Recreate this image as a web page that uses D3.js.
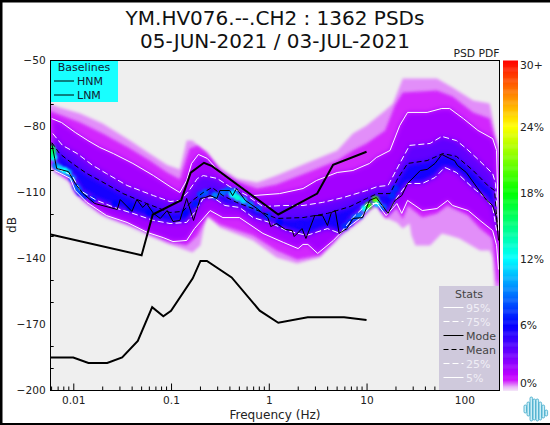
<!DOCTYPE html>
<html><head><meta charset="utf-8">
<script src="https://cdn.jsdelivr.net/npm/d3@7/dist/d3.min.js"></script>
<style>html,body{margin:0;padding:0;background:#fff;overflow:hidden}svg{display:block}text{font-family:"DejaVu Sans",sans-serif}</style>
</head><body><div id="chart"></div>
<script>
// ---- values are [log10(Hz), dB] ----
const titleLines = ["YM.HV076.--.CH2 : 1362 PSDs", "05-JUN-2021 / 03-JUL-2021"];
const xTickHz = [0.01, 0.1, 1, 10, 100];
const xTickLabels = ["0.01", "0.1", "1", "10", "100"];
const yTicksDb = [-50, -80, -110, -140, -170, -200];
const cbTicks = [[0, "0%"], [6, "6%"], [12, "12%"], [18, "18%"], [24, "24%"], [30, "30+"]];
const colorStops = [0, 0.35, 1, 6, 12, 18, 24, 30];
const colorValues = ["#f2def8", "#e6a8f8", "#cc00ff", "#0000ff", "#00ffff", "#00ff00", "#ffff00", "#ff0000"];

const hnm = [[-2.231,-129.1],[-1.301,-138.5],[-1.187,-120],[-0.896,-113.5],[-0.799,-101],[-0.663,-96.5],[-0.58,-98],[0.097,-120],[0.495,-110.5],[0.658,-97.4],[1,-91.5]];
const lnm = [[-2.231,-185],[-2,-185],[-1.845,-187.5],[-1.653,-187.5],[-1.5,-185],[-1.34,-177.5],[-1.193,-162.1],[-1.079,-166.25],[-1,-163.75],[-0.778,-149],[-0.699,-141.1],[-0.633,-141.1],[-0.38,-148.6],[-0.093,-163.7],[0.097,-169.2],[0.398,-166.7],[0.77,-166.7],[1,-168]];

const p95 = [[-2.22,-76.4],[-2.12,-78.2],[-1.98,-82.7],[-1.85,-86.4],[-1.73,-89.5],[-1.59,-92.3],[-1.39,-96.8],[-1.18,-102.3],[-1.01,-107.3],[-0.91,-110],[-0.84,-104.5],[-0.79,-96.8],[-0.72,-92.7],[-0.63,-94.5],[-0.5,-100.9],[-0.33,-105.9],[-0.16,-111.4],[0.11,-110.5],[0.35,-108.2],[0.49,-104.5],[0.7,-100.9],[0.86,-100],[1.03,-96.8],[1.1,-94.1],[1.24,-90.9],[1.34,-79.5],[1.42,-73.6],[1.62,-73.6],[1.77,-71.8],[1.85,-71.8],[1.99,-76.4],[2.14,-81.8],[2.29,-85.5],[2.33,-90.9],[2.35,-127.3]];
const p75 = [[-2.21,-83.2],[-2.11,-88.6],[-1.96,-92.3],[-1.8,-97.7],[-1.66,-101.4],[-1.45,-106.8],[-1.18,-111.4],[-1.01,-114.1],[-0.91,-113.6],[-0.83,-110],[-0.73,-103.6],[-0.67,-102.3],[-0.53,-103.6],[-0.4,-107.3],[-0.22,-111.4],[-0.06,-116.4],[0.15,-115.9],[0.35,-115.9],[0.55,-114.5],[0.76,-112.3],[1,-109.1],[1.11,-107.3],[1.22,-106.8],[1.34,-96.8],[1.44,-88.6],[1.65,-87.7],[1.77,-84.5],[1.92,-86.4],[2.02,-90],[2.13,-94.5],[2.29,-101.4],[2.32,-105.9],[2.34,-125.9]];
const pMean = [[-2.22,-87.3],[-2.14,-92.3],[-2.01,-96.8],[-1.86,-101.4],[-1.73,-104.5],[-1.49,-110.5],[-1.25,-115],[-1.01,-119.1],[-0.88,-118.6],[-0.78,-113.6],[-0.67,-110],[-0.58,-107.7],[-0.47,-111.4],[-0.33,-114.5],[-0.16,-117.3],[0.08,-121.8],[0.35,-121.4],[0.6,-119.5],[0.83,-116.4],[1,-112.7],[1.11,-110.5],[1.24,-110.5],[1.32,-103.6],[1.42,-96.8],[1.62,-95.5],[1.78,-92.3],[1.92,-93.6],[2.09,-100],[2.24,-106.8],[2.31,-109.1],[2.34,-125.9]];
const pMode = [[-2.22,-87.7],[-2.19,-94.5],[-2.17,-99.1],[-2.05,-100.5],[-1.98,-105.9],[-1.9,-110.5],[-1.78,-115],[-1.55,-117.7],[-1.52,-113.2],[-1.4,-118.6],[-1.35,-113.2],[-1.29,-116.8],[-1.25,-115],[-1.18,-119.5],[-1.11,-121.8],[-1.04,-118.2],[-0.98,-123.2],[-0.91,-122.7],[-0.84,-112.7],[-0.77,-122.7],[-0.7,-112.7],[-0.65,-112.3],[-0.6,-111.4],[-0.53,-112.7],[-0.5,-109.1],[-0.4,-109.1],[-0.37,-111.4],[-0.33,-108.2],[-0.24,-113.6],[-0.12,-117.3],[-0.01,-121.4],[0.02,-125.5],[0.08,-124.1],[0.17,-126.8],[0.24,-127.3],[0.26,-130],[0.34,-126.4],[0.38,-130.9],[0.47,-120.5],[0.55,-120.5],[0.6,-125],[0.64,-119.1],[0.68,-118.2],[0.72,-128.6],[0.8,-126.4],[0.86,-121.8],[0.96,-121.4],[1.03,-113.6],[1.1,-112.3],[1.16,-115.9],[1.22,-119.5],[1.29,-113.6],[1.36,-111.4],[1.42,-105.9],[1.55,-100],[1.62,-99.5],[1.7,-96.8],[1.77,-92.7],[1.85,-94.5],[1.9,-95.5],[1.93,-97.7],[2.02,-100.9],[2.13,-107.7],[2.23,-113.6],[2.29,-115.9],[2.33,-121.4],[2.35,-131.8]];
const p25 = [[-2.16,-99.1],[-2.01,-102.3],[-1.93,-109.1],[-1.76,-113.6],[-1.55,-117.3],[-1.39,-119.5],[-1.18,-122.7],[-1.01,-124.1],[-0.84,-123.6],[-0.76,-119.1],[-0.67,-112.7],[-0.57,-112.3],[-0.45,-115.9],[-0.3,-116.8],[-0.16,-121.4],[0.01,-123.6],[0.18,-127.3],[0.39,-129.5],[0.6,-126.4],[0.73,-128.6],[0.86,-121.4],[1.01,-115],[1.14,-115],[1.22,-119.5],[1.31,-112.3],[1.42,-105.9],[1.57,-105.9],[1.7,-103.2],[1.8,-98.6],[1.92,-100.9],[2.06,-106.8],[2.21,-112.3],[2.29,-116.8],[2.33,-127.3]];
const p05 = [[-2.19,-100],[-2.03,-103.6],[-1.98,-109.1],[-1.86,-114.5],[-1.66,-120.5],[-1.45,-123.6],[-1.24,-128.2],[-1.08,-130.5],[-0.98,-132.3],[-0.84,-131.8],[-0.76,-126.4],[-0.6,-118.2],[-0.47,-121.4],[-0.3,-121.4],[-0.06,-128.6],[0.15,-132.7],[0.3,-135.5],[0.35,-133.6],[0.4,-133.6],[0.5,-137.7],[0.66,-131.8],[0.73,-128.6],[0.93,-121.8],[1.03,-116.8],[1.1,-114.5],[1.2,-120.5],[1.31,-115],[1.36,-119.5],[1.42,-113.6],[1.57,-118.2],[1.72,-117.3],[1.83,-113.6],[1.88,-115.9],[2.04,-118.2],[2.16,-122.7],[2.29,-127.3],[2.33,-134],[2.35,-145]];

// outer edges of the density cloud
const envTop = [[-2.25,-69.5],[-2.14,-71.4],[-1.93,-74.1],[-1.7,-78.6],[-1.42,-86.4],[-1.22,-92.3],[-1.04,-97.5],[-0.91,-99.5],[-0.87,-92],[-0.84,-86.4],[-0.78,-86.4],[-0.67,-90.9],[-0.5,-98.6],[-0.33,-103.6],[-0.12,-105.5],[0.08,-102.3],[0.45,-95.5],[0.7,-90.9],[0.86,-83.2],[1,-79.5],[1.19,-72.7],[1.27,-69.5],[1.37,-58.2],[1.72,-58.2],[1.88,-62.3],[2.09,-68.2],[2.26,-69.5],[2.33,-86.4],[2.36,-100]];
const envBottom = [[-2.25,-96.8],[-2.17,-100.9],[-2.03,-105.5],[-1.98,-110.5],[-1.73,-119.5],[-1.52,-123.6],[-1.29,-127.3],[-1.22,-129.5],[-1.04,-133.2],[-0.78,-137.3],[-0.7,-134.1],[-0.66,-125],[-0.63,-120.5],[-0.5,-125.9],[-0.16,-131.8],[0.08,-139.5],[0.29,-142.3],[0.52,-139.5],[0.66,-133.2],[0.73,-129.5],[0.93,-122.7],[1.03,-118.2],[1.1,-115.9],[1.19,-121.4],[1.31,-123.6],[1.37,-126.4],[1.44,-124.1],[1.46,-129.5],[1.5,-134.1],[1.65,-134.1],[1.77,-128.6],[1.85,-129.5],[1.95,-130.9],[2.16,-136.4],[2.26,-136.4],[2.29,-139.5],[2.31,-153.2],[2.36,-154.5]];
const midTop = [[-2.25,-72.7],[-1.93,-78.2],[-1.7,-83.2],[-1.42,-90],[-1.22,-95.5],[-1.04,-100.9],[-0.91,-104],[-0.85,-95.5],[-0.81,-90],[-0.73,-88.6],[-0.63,-91.8],[-0.5,-100],[-0.33,-105],[-0.12,-108.2],[0.08,-106.4],[0.45,-100],[0.7,-95.5],[0.86,-90.9],[1,-87.7],[1.19,-81.8],[1.29,-70.5],[1.37,-64.5],[1.72,-63.6],[1.88,-66.4],[2.09,-73.6],[2.26,-76.4],[2.33,-88.6],[2.36,-100]];
const midBottom = [[-2.25,-96.8],[-2.17,-100],[-2.03,-104.5],[-1.98,-110],[-1.73,-118.2],[-1.52,-122.3],[-1.29,-126.4],[-1.04,-131.8],[-0.84,-134.1],[-0.73,-129.5],[-0.63,-120.5],[-0.5,-124.5],[-0.16,-129.5],[0.08,-136.4],[0.29,-140.5],[0.52,-138.6],[0.66,-132.3],[0.73,-128.6],[0.93,-122.3],[1.03,-117.3],[1.1,-115.5],[1.2,-121.8],[1.31,-116.8],[1.37,-122.3],[1.42,-115.9],[1.57,-121.4],[1.72,-119.5],[1.83,-115.9],[2.04,-120.5],[2.16,-126.4],[2.29,-130.9],[2.33,-150],[2.36,-153]];
// density (%) of each band
const bandLevels = {env: 0.45, mid: 0.85, outer: 2, inner: 3.6, core: 5.4};
// local density peaks: [log10 Hz, dB, percent]
const peaks = [[-2.21,-91.4,15],[-2.22,-90,16],[-2.22,-93,14],[-2.2,-94,12],[-2.18,-97.7,9],[-2.14,-99,11],[-2.09,-100,12],[-2.05,-101,10],[-2.01,-103.6,9],[-1.97,-107.3,8],[-1.95,-108.5,8],[-1.93,-110,7],[-1.88,-111.4,7],[-1.8,-113,6.5],[-1.57,-115,6],[-1.42,-116.8,6],[-1.22,-119,6],[-0.86,-119,6],[-0.75,-115,6.5],[-0.7,-111,7.5],[-0.65,-110,8],[-0.55,-111.4,9],[-0.47,-110,8.5],[-0.42,-109,8],[-0.37,-111,12],[-0.35,-109.5,9],[-0.32,-112.3,13],[-0.26,-113.6,11],[-0.19,-115.5,9],[-0.11,-117.3,8],[-0.01,-120.5,7],[0.11,-123.6,6],[0.32,-124.5,5.5],[0.63,-121.8,5.5],[0.78,-125.5,7],[0.83,-123.6,7],[0.88,-121.4,8],[0.93,-120.5,9],[0.98,-117.3,12],[1.02,-116,19],[1.09,-113.2,20],[1.11,-115,11],[1.17,-116.8,8],[1.26,-111.4,7],[1.29,-108.2,7]];

const baselineLabels = ["HNM", "LNM"];
const statsRows = [["95%","#fff","none",true],["75%","#fff","6,3",true],["Mode","#000","none",false],["Mean","#000","5,3",false],["25%","#fff","6,3",true],["5%","#fff","none",true]];

// ---- drawing ----
const W = 550, H = 425;
const svg = d3.select("#chart").append("svg").attr("width", W).attr("height", H);
const x = d3.scaleLog().domain([10 ** -2.231, 10 ** 2.358]).range([50.7, 499.3]);
const y = d3.scaleLinear().domain([-50, -200]).range([60.5, 390.5]);
const color = d3.scaleLinear().domain(colorStops).range(colorValues).clamp(true);
const line = d3.line().x(d => x(10 ** d[0])).y(d => y(d[1]));

const defs = svg.append("defs");
defs.append("clipPath").attr("id", "plot").append("rect").attr("x", 50.7).attr("y", 60.5).attr("width", 448.6).attr("height", 330);
[["b1", 1.6], ["b2", 2.6], ["b3", 1.3]].forEach(([id, s]) => {
  defs.append("filter").attr("id", id).attr("x", "-5%").attr("y", "-5%").attr("width", "110%").attr("height", "110%")
    .append("feGaussianBlur").attr("stdDeviation", s);
});

svg.append("rect").attr("width", W).attr("height", H).attr("fill", "#fff");
svg.append("rect").attr("x", 50.7).attr("y", 60.5).attr("width", 448.6).attr("height", 330).attr("fill", "#efefef");

const plot = svg.append("g").attr("clip-path", "url(#plot)");
const poly = (top, bottom) => line(top.concat(bottom.slice().reverse())) + "Z";
plot.append("path").attr("d", poly(envTop, envBottom)).attr("fill", color(bandLevels.env)).attr("filter", "url(#b1)");
plot.append("path").attr("d", poly(midTop, midBottom)).attr("fill", color(bandLevels.mid)).attr("filter", "url(#b1)");
const inner = plot.append("g").attr("filter", "url(#b2)");
inner.append("path").attr("d", poly(p95, p05)).attr("fill", color(bandLevels.outer));
inner.append("path").attr("d", poly(p75, p25)).attr("fill", color(bandLevels.inner));
inner.append("path").attr("d", poly(pMean, p25)).attr("fill", color(bandLevels.core));
const hot = plot.append("g").attr("filter", "url(#b3)");
hot.selectAll("circle").data(peaks.slice().sort((a, b) => a[2] - b[2])).join("circle")
  .attr("cx", d => x(10 ** d[0])).attr("cy", d => y(d[1])).attr("r", 3.6).attr("fill", d => color(d[2]));

const drawLine = (data, stroke, w, dash) => plot.append("path").attr("d", line(data)).attr("fill", "none")
  .attr("stroke", stroke).attr("stroke-width", w).attr("stroke-dasharray", dash || null);
drawLine(p95, "#fff", 1);
drawLine(p75, "#fff", 1, "6,3");
drawLine(p25, "#fff", 1, "6,3");
drawLine(p05, "#fff", 1);
drawLine(pMean, "#000", 1, "5,3");
drawLine(pMode, "#000", 1);
drawLine(hnm, "#000", 2);
drawLine(lnm, "#000", 2);

// spines and ticks
const minorX = [];
for (let d = -3; d <= 2; d++) for (let m = 2; m <= 9; m++) { const v = m * 10 ** d; if (v > x.domain()[0] && v < x.domain()[1]) minorX.push(v); }
const axB = svg.append("g").attr("transform", "translate(0,390.5)");
axB.call(d3.axisBottom(x).tickValues(xTickHz).tickSize(-7).tickPadding(5.5).tickFormat((d, i) => xTickLabels[i]));
axB.selectAll(".minor").data(minorX).join("line").attr("class", "minor").attr("x1", d => x(d)).attr("x2", d => x(d)).attr("y1", 0).attr("y2", -4).attr("stroke", "#000");
axB.select(".domain").remove();
axB.selectAll("text").attr("font-size", 10.6).attr("font-family", "DejaVu Sans").attr("fill", "#222");

const axL = svg.append("g").attr("transform", "translate(50.7,0)");
axL.call(d3.axisLeft(y).tickValues(yTicksDb).tickSize(0).tickPadding(5).tickFormat(d3.format("d")));
const minorY = d3.range(-60, -200, -10).filter(v => !yTicksDb.includes(v));
axL.selectAll(".minor").data(minorY).join("line").attr("class", "minor").attr("y1", d => y(d)).attr("y2", d => y(d)).attr("x1", 0).attr("x2", 3).attr("stroke", "#000");
axL.select(".domain").remove();
axL.selectAll("text").attr("font-size", 10.6).attr("font-family", "DejaVu Sans").attr("fill", "#222");

svg.append("rect").attr("x", 50.5).attr("y", 60.5).attr("width", 449).attr("height", 330).attr("fill", "none").attr("stroke", "#000").attr("stroke-width", 1);

// titles
svg.selectAll(".ttl").data(titleLines).join("text").attr("class", "ttl").attr("x", 275).attr("y", (d, i) => 25 + i * 23)
  .attr("text-anchor", "middle").attr("font-size", 20).attr("fill", "#111").text(d => d);
svg.append("text").attr("x", 476.5).attr("y", 57).attr("text-anchor", "middle").attr("font-size", 10.8).attr("fill", "#222").text("PSD PDF");
svg.append("text").attr("x", 275).attr("y", 418.5).attr("text-anchor", "middle").attr("font-size", 12.1).attr("fill", "#222").text("Frequency (Hz)");
svg.append("text").attr("transform", "translate(16,225) rotate(-90)").attr("text-anchor", "middle").attr("font-size", 12.1).attr("fill", "#222").text("dB");

// baselines legend
const lg = svg.append("g");
lg.append("rect").attr("x", 51).attr("y", 61).attr("width", 67).attr("height", 41).attr("fill", "#18ffff");
lg.append("text").attr("x", 84).attr("y", 71).attr("text-anchor", "middle").attr("font-size", 11).attr("fill", "#123").text("Baselines");
baselineLabels.forEach((t, i) => {
  const ry = 81 + i * 14;
  lg.append("line").attr("x1", 54).attr("x2", 74).attr("y1", ry).attr("y2", ry).attr("stroke", "#000");
  lg.append("text").attr("x", 77).attr("y", ry + 4).attr("font-size", 11).attr("fill", "#123").text(t);
});

// stats legend
const st = svg.append("g");
st.append("rect").attr("x", 439).attr("y", 286).attr("width", 60).attr("height", 104).attr("fill", "#cfc9dc");
st.append("text").attr("x", 469).attr("y", 298).attr("text-anchor", "middle").attr("font-size", 11).attr("fill", "#444").text("Stats");
statsRows.forEach((r, i) => {
  const ry = 307.5 + i * 14;
  st.append("line").attr("x1", 443.5).attr("x2", 463.5).attr("y1", ry).attr("y2", ry).attr("stroke", r[1]).attr("stroke-dasharray", r[2] === "none" ? null : r[2]);
  st.append("text").attr("x", 466).attr("y", ry + 4).attr("font-size", 11).attr("fill", r[3] ? "#f0eef6" : "#444").text(r[0]);
});

// colour bar
const cb = d3.scaleLinear().domain([0, 30]).range([390.5, 60.5]);
svg.append("g").selectAll("rect").data(d3.range(0, 30, 0.1)).join("rect")
  .attr("x", 503).attr("width", 15).attr("y", d => cb(d + 0.1)).attr("height", Math.abs(cb(0.1) - cb(0)) + 0.4).attr("fill", d => color(d));
svg.selectAll(".cbl").data(cbTicks).join("text").attr("class", "cbl").attr("x", 520)
  .attr("y", d => d[0] === 0 ? 387 : d[0] === 30 ? 69 : cb(d[0]) + 4).attr("font-size", 10.8).attr("fill", "#222").text(d => d[1]);

// corner logo
const logo = svg.append("g");
[[524,405,413],[527,402,416],[530,397,421],[533,399,420],[536,399,421],[539,402,420],[542,405,418],[545,410,416]].forEach(b => {
  logo.append("rect").attr("x", b[0]).attr("y", b[1]).attr("width", 2.6).attr("height", b[2] - b[1]).attr("rx", 1.3)
    .attr("fill", "#cdeef7").attr("stroke", "#3aa7c8").attr("stroke-width", 0.8);
});

// page edge
svg.append("rect").attr("x", 0).attr("y", 0).attr("width", 2.5).attr("height", H).attr("fill", "#000");
svg.append("rect").attr("x", 0).attr("y", 0).attr("width", W).attr("height", 2.5).attr("fill", "#000");
svg.append("rect").attr("x", 0).attr("y", H - 2).attr("width", W).attr("height", 2).attr("fill", "#000");
</script></body></html>
